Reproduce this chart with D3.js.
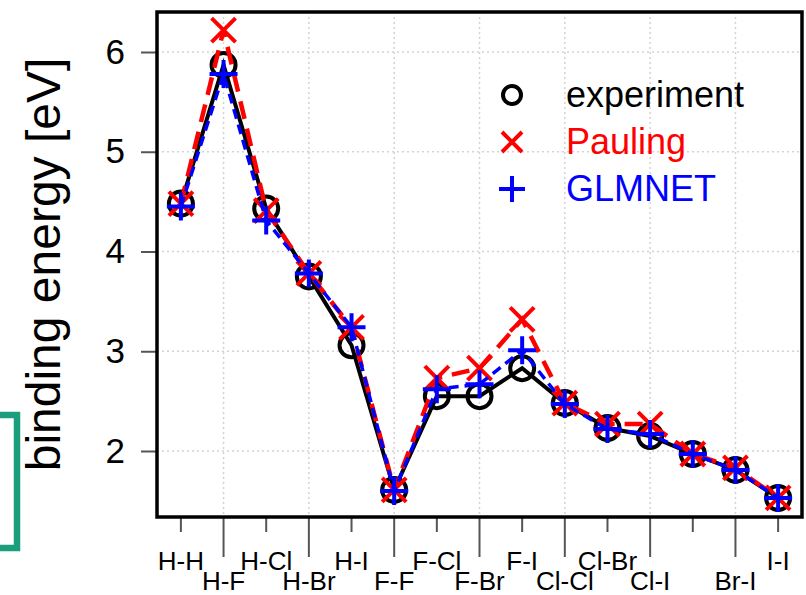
<!DOCTYPE html>
<html>
<head>
<meta charset="utf-8">
<script src="https://cdn.jsdelivr.net/npm/d3@7"></script>
<style>
  body { margin: 0; background: #fff; }
  text { font-family: "Liberation Sans", Arial, Helvetica, sans-serif; }
</style>
</head>
<body>
<script>
// bonds along the x axis
var bonds = ["H-H", "H-F", "H-Cl", "H-Br", "H-I", "F-F", "F-Cl", "F-Br",
             "F-I", "Cl-Cl", "Cl-Br", "Cl-I", "Br-Br", "Br-I", "I-I"];
// labels actually printed (Br-Br is not shown in the original)
var tickLabels = ["H-H", "H-F", "H-Cl", "H-Br", "H-I", "F-F", "F-Cl", "F-Br",
                  "F-I", "Cl-Cl", "Cl-Br", "Cl-I", "", "Br-I", "I-I"];
var experiment = [4.48, 5.87, 4.43, 3.75, 3.06, 1.61, 2.55, 2.55,
                  2.83, 2.48, 2.23, 2.15, 1.97, 1.81, 1.53];
var pauling    = [4.48, 6.22, 4.41, 3.78, 3.24, 1.61, 2.73, 2.83,
                  3.32, 2.48, 2.27, 2.27, 1.97, 1.83, 1.53];
var glmnet     = [4.45, 5.78, 4.31, 3.78, 3.24, 1.60, 2.62, 2.67,
                  3.01, 2.47, 2.22, 2.17, 1.97, 1.81, 1.53];
var yTicks = [2, 3, 4, 5, 6];
var gridX = [2, 4, 6, 8, 10, 12, 14];
var legendNames = ["experiment", "Pauling", "GLMNET"];

var w = 806, h = 595;
var pLeft = 157, pRight = 802, pTop = 12, pBottom = 517;

var svg = d3.select("body").append("svg")
    .attr("width", w)
    .attr("height", h);

var x = d3.scaleLinear().domain([0.44, 15.56]).range([pLeft, pRight]);
var y = d3.scaleLinear().domain([2, 6]).range([451, 52]);

// teal bracket at the far left
svg.append("rect")
    .attr("x", -60).attr("y", 415)
    .attr("width", 77).attr("height", 133)
    .attr("fill", "none")
    .attr("stroke", "#1a9e7c")
    .attr("stroke-width", 6.5);

// grid
svg.selectAll("line.gx")
    .data(gridX)
    .enter()
    .append("line")
    .attr("x1", function(d) { return x(d); })
    .attr("x2", function(d) { return x(d); })
    .attr("y1", pTop).attr("y2", pBottom)
    .attr("stroke", "#d3d3d3")
    .attr("stroke-width", 1.5)
    .attr("stroke-dasharray", "2,3");

svg.selectAll("line.gy")
    .data(yTicks)
    .enter()
    .append("line")
    .attr("x1", pLeft).attr("x2", pRight)
    .attr("y1", function(d) { return y(d); })
    .attr("y2", function(d) { return y(d); })
    .attr("stroke", "#d3d3d3")
    .attr("stroke-width", 1.5)
    .attr("stroke-dasharray", "2,3");

// y axis
var yAxis = d3.axisLeft(y)
    .tickValues(yTicks)
    .tickSize(16)
    .tickPadding(16)
    .tickFormat(d3.format("d"));
var gy = svg.append("g")
    .attr("transform", "translate(" + pLeft + ",0)")
    .call(yAxis);
gy.select(".domain").remove();
gy.selectAll(".tick line").attr("stroke", "#555").attr("stroke-width", 2);
gy.selectAll(".tick text")
    .attr("font-size", 35)
    .attr("fill", "#000")
    .style("font-family", "Liberation Sans, Arial, sans-serif");

// x axis: odd bonds short ticks / upper row, even bonds long ticks / lower row
var idx = d3.range(1, bonds.length + 1);
var xAxisG = svg.append("g");
xAxisG.selectAll("line")
    .data(idx)
    .enter()
    .append("line")
    .attr("x1", function(d) { return x(d); })
    .attr("x2", function(d) { return x(d); })
    .attr("y1", pBottom)
    .attr("y2", function(d) { return d % 2 === 0 ? 557 : 532; })
    .attr("stroke", "#555")
    .attr("stroke-width", 2);

xAxisG.selectAll("text")
    .data(idx)
    .enter()
    .append("text")
    .attr("x", function(d) { return x(d); })
    .attr("y", function(d) { return d % 2 === 0 ? 590 : 570; })
    .attr("text-anchor", "middle")
    .attr("font-size", 26)
    .text(function(d) { return tickLabels[d - 1]; });

// y label
svg.append("text")
    .attr("transform", "translate(60," + ((pTop + pBottom) / 2) + ") rotate(-90)")
    .attr("text-anchor", "middle")
    .attr("font-size", 48)
    .text("binding energy [eV]");

// series
var series = [
    {name: "experiment", values: experiment, color: "#000", dash: null, width: 4, shape: "o"},
    {name: "Pauling", values: pauling, color: "#ff0000", dash: "18,10", width: 4.5, shape: "x"},
    {name: "GLMNET", values: glmnet, color: "#0000ff", dash: "10,6", width: 3.5, shape: "+"}
];

var line = d3.line()
    .x(function(d, i) { return x(i + 1); })
    .y(function(d) { return y(d); });

function drawMarker(g, shape, cx, cy, s, color, sw) {
    if (shape === "o") {
        g.append("circle").attr("cx", cx).attr("cy", cy).attr("r", s)
            .attr("fill", "none").attr("stroke", color).attr("stroke-width", sw);
    } else if (shape === "x") {
        g.append("path")
            .attr("d", "M" + (cx - s) + "," + (cy - s) + "L" + (cx + s) + "," + (cy + s) +
                       "M" + (cx - s) + "," + (cy + s) + "L" + (cx + s) + "," + (cy - s))
            .attr("stroke", color).attr("stroke-width", sw);
    } else {
        g.append("path")
            .attr("d", "M" + (cx - s) + "," + cy + "L" + (cx + s) + "," + cy +
                       "M" + cx + "," + (cy - s) + "L" + cx + "," + (cy + s))
            .attr("stroke", color).attr("stroke-width", sw);
    }
}

series.forEach(function(s) {
    var g = svg.append("g");
    g.append("path")
        .datum(s.values)
        .attr("d", line)
        .attr("fill", "none")
        .attr("stroke", s.color)
        .attr("stroke-width", s.width)
        .attr("stroke-dasharray", s.dash);
    s.values.forEach(function(v, i) {
        var size = s.shape === "o" ? 12 : (s.shape === "x" ? 12 : 14);
        drawMarker(g, s.shape, x(i + 1), y(v), size, s.color, 4);
    });
});

// legend
var lg = svg.append("g");
series.forEach(function(s, i) {
    var cy = 95 + i * 47;
    var size = s.shape === "o" ? 9 : (s.shape === "x" ? 10 : 13);
    drawMarker(lg, s.shape, 512, cy, size, s.color, 4);
    lg.append("text")
        .attr("x", 566)
        .attr("y", cy + 12)
        .attr("font-size", 36)
        .attr("fill", s.color)
        .text(legendNames[i]);
});

// box
svg.append("rect")
    .attr("x", pLeft).attr("y", pTop)
    .attr("width", pRight - pLeft).attr("height", pBottom - pTop)
    .attr("fill", "none")
    .attr("stroke", "#000")
    .attr("stroke-width", 3.5);
</script>
</body>
</html>
